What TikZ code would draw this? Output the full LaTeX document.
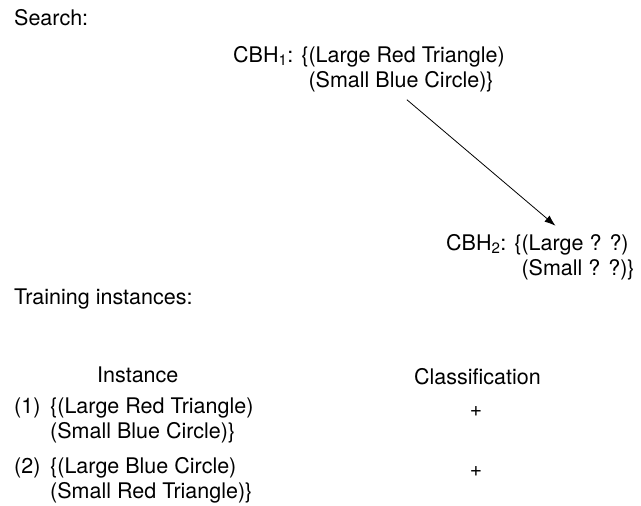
\documentclass[tikz,border=0pt]{standalone}
\usepackage{fontspec}
\setmainfont{TeX Gyre Heros}
\usetikzlibrary{arrows.meta}
\usetikzlibrary{calc}

\begin{document}
\begin{tikzpicture}[x=1pt, y=-1pt, txt/.style={anchor=base west, inner sep=0pt, align=left, font=\fontsize{21.5}{25}\selectfont}, sign/.style={anchor=base, inner sep=0pt, font=\fontsize{21}{24}\selectfont}, line/.style={>={Latex[length=11pt,width=8pt]}}]
	\useasboundingbox (0,0) rectangle (641,506);
	\coordinate (S) at (14, 25);
	\coordinate (H1) at (233, 87);
	\coordinate (H2) at (446, 275);
	\coordinate (T) at (14, 304);
	\node[txt] (SearchLabel) at (S) {Search:};
	\node[txt] (CBHone) at (H1) {CBH\textsubscript{1}: \{(Large Red Triangle)\\\phantom{CBH\textsubscript{1}: \{}(Small Blue Circle)\}};
	\node[txt] (CBHtwo) at (H2) {CBH\textsubscript{2}: \{(Large ? ?)\\\phantom{CBH\textsubscript{2}: \{}(Small ? ?)\}};
	\node[txt] (TrainLabel) at (T) {Training instances:};
	\node[txt] (InstHead) at (97, 382) {Instance};
	\node[txt] (ClassHead) at (414, 384) {Classification};
	\node[txt] (NumA) at (14, 413) {(1)};
	\node[txt] (InstA) at (50, 438) {\{(Large Red Triangle)\\(Small Blue Circle)\}};
	\node[sign] (ClassA) at (476, 416) {+};
	\node[txt] (NumB) at (14, 473) {(2)};
	\node[txt] (InstB) at (50, 498) {\{(Large Blue Circle)\\(Small Red Triangle)\}};
	\node[sign] (ClassB) at (476, 476) {+};
	\draw[->, line, line width=0.8pt] ($(CBHone.south)+(38,8)$) -- ($(CBHtwo.north)+(15,-8)$);
\end{tikzpicture}
\end{document}
